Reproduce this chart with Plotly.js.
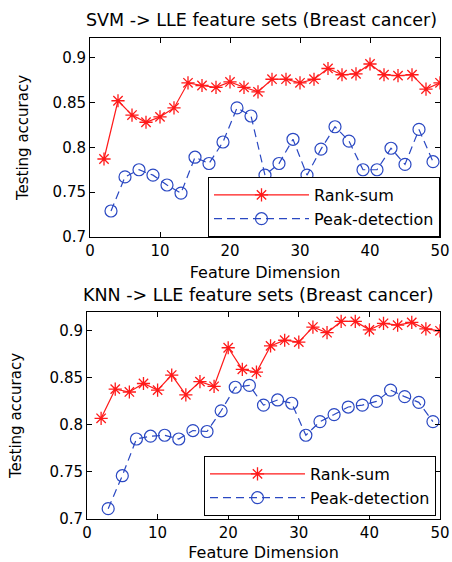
<!DOCTYPE html>
<html>
<head>
<meta charset="utf-8">
<script src="https://cdn.plot.ly/plotly-3.0.1.min.js"></script>
<style>
html,body{margin:0;padding:0;background:#fff;}
#chart{width:452px;height:562px;}
</style>
</head>
<body>
<div id="chart"></div>
<script>
// Feature dimensions
var rankDims = [2,4,6,8,10,12,14,16,18,20,22,24,26,28,30,32,34,36,38,40,42,44,46,48,50];
var peakDims = [3,5,7,9,11,13,15,17,19,21,23,25,27,29,31,33,35,37,39,41,43,45,47,49];

// SVM -> LLE feature sets (Breast cancer)
var svmRankSum = [0.787,0.852,0.836,0.828,0.834,0.844,0.872,0.869,0.867,0.873,0.867,0.862,0.876,0.876,0.872,0.876,0.888,0.881,0.882,0.893,0.881,0.880,0.881,0.865,0.872];
var svmPeak = [0.729,0.767,0.775,0.769,0.758,0.749,0.789,0.782,0.806,0.844,0.835,0.769,0.782,0.809,0.769,0.798,0.823,0.807,0.775,0.775,0.799,0.781,0.820,0.784];

// KNN -> LLE feature sets (Breast cancer)
var knnRankSum = [0.807,0.838,0.835,0.844,0.837,0.853,0.832,0.846,0.841,0.882,0.859,0.856,0.884,0.890,0.888,0.904,0.898,0.910,0.910,0.901,0.908,0.906,0.909,0.902,0.900];
var knnPeak = [0.711,0.746,0.785,0.788,0.789,0.785,0.794,0.793,0.815,0.840,0.842,0.821,0.8265,0.823,0.789,0.8035,0.811,0.819,0.821,0.825,0.837,0.830,0.824,0.8035];

var xTicks = [0,10,20,30,40,50];
var yTicks = [0.7,0.75,0.8,0.85,0.9];
var seriesNames = ['Rank-sum','Peak-detection'];
var titles = ['SVM -> LLE feature sets (Breast cancer)','KNN -> LLE feature sets (Breast cancer)'];

var RED = '#ff1a1a', BLUE = '#2a48c2';
var FONT = 'DejaVu Sans, sans-serif';

function rankTrace(y, xa, ya, lg){
  return {x: rankDims, y: y, xaxis: xa, yaxis: ya, legend: lg, name: seriesNames[0],
    type:'scatter', mode:'lines+markers',
    line:{color:RED, width:1.2},
    marker:{symbol:'asterisk-open', size:11, color:RED, line:{color:RED, width:1.3}}};
}
function peakTrace(y, xa, ya, lg){
  return {x: peakDims, y: y, xaxis: xa, yaxis: ya, legend: lg, name: seriesNames[1],
    type:'scatter', mode:'lines+markers',
    line:{color:BLUE, width:1.2, dash:'8px,5px'},
    marker:{symbol:'circle-open', size:12, color:BLUE, line:{color:BLUE, width:1.2}}};
}

var data = [
  rankTrace(svmRankSum,'x','y','legend'),
  peakTrace(svmPeak,'x','y','legend'),
  rankTrace(knnRankSum,'x2','y2','legend2'),
  peakTrace(knnPeak,'x2','y2','legend2')
];

function xAxis(domain, anchor, standoff){
  return {domain: domain, anchor: anchor, range:[0,50], tickvals:xTicks,
    showline:true, mirror:'ticks', linecolor:'#000', linewidth:1,
    ticks:'inside', ticklen:5, tickcolor:'#000', showgrid:false, zeroline:false,
    tickfont:{family:FONT, size:15, color:'#000'},
    title:{text:'Feature Dimension', font:{family:FONT, size:16, color:'#000'}, standoff:standoff}};
}
function yAxis(domain, anchor, range, standoff){
  return {domain: domain, anchor: anchor, range:range, tickvals:yTicks,
    showline:true, mirror:'ticks', linecolor:'#000', linewidth:1,
    ticks:'inside', ticklen:5, tickcolor:'#000', showgrid:false, zeroline:false,
    tickfont:{family:FONT, size:15, color:'#000'},
    title:{text:'Testing accuracy', font:{family:FONT, size:15, color:'#000'}, standoff:standoff}};
}

function legendBox(x, y){
  return {x:x, y:y, xanchor:'right', yanchor:'bottom', bgcolor:'#fff',
    bordercolor:'#000', borderwidth:1, itemwidth:95, tracegroupgap:0,
    font:{family:FONT, size:16, color:'#000'}};
}

var layout = {
  width:452, height:562,
  margin:{l:0, r:0, t:0, b:0},
  paper_bgcolor:'#fff', plot_bgcolor:'#fff',
  showlegend:true,
  xaxis: xAxis([90/452, 440/452], 'y', 7),
  yaxis: yAxis([(562-237)/562, (562-38)/562], 'x', [0.7, 0.922], 20),
  xaxis2: xAxis([87/452, 440/452], 'y2', 13),
  yaxis2: yAxis([(562-519)/562, (562-312)/562], 'x2', [0.7, 0.92], 24),
  legend: legendBox(440/452, (562-237)/562),
  legend2: legendBox(436/452, (562-516)/562),
  annotations: [
    {text: titles[0], xref:'paper', yref:'paper', x:261/452, y:(562-20)/562, xanchor:'center', yanchor:'middle', showarrow:false, font:{family:FONT, size:17.5, color:'#000'}},
    {text: titles[1], xref:'paper', yref:'paper', x:258/452, y:(562-295)/562, xanchor:'center', yanchor:'middle', showarrow:false, font:{family:FONT, size:17.5, color:'#000'}}
  ]
};

Plotly.newPlot('chart', data, layout, {displayModeBar:false, staticPlot:true});
</script>
</body>
</html>
